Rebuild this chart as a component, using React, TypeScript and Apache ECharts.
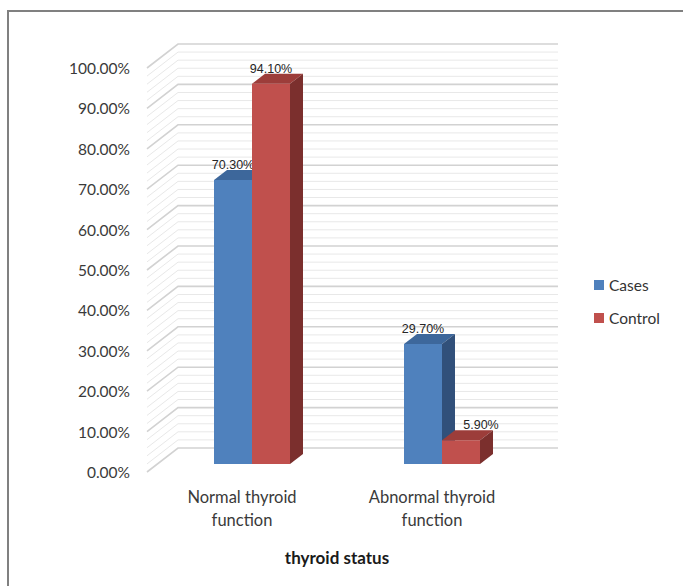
import React, { useEffect, useRef } from "react";
import * as echarts from "echarts";

// Chart data
const categories = ["Normal thyroid\nfunction", "Abnormal thyroid\nfunction"];
const seriesNames = ["Cases", "Control"];
const casesValues = [70.3, 29.7];
const controlValues = [94.1, 5.9];
const axisTitle = "thyroid status";

// Value axis range
const yMin = 0;
const yMax = 100;
const yMajorStep = 10;
const yMinorStep = 2;

// Colours per series: front face, top face, side face
const palettes = [
  { front: "#4F81BD", top: "#3D679B", side: "#31507A" },
  { front: "#C0504D", top: "#9C3D3A", side: "#7B2F2D" },
];

// Pseudo-3D geometry (pixels)
const WALL_DEPTH = { x: 31, y: -24 };
const BAR_PLANE = { x: 10, y: -8 };
const BAR_DEPTH = { x: 13, y: -10 };
const LABEL_NUDGE = 20; // sideways shift for a label that would sit on a taller neighbour

const GRID = { left: 147, top: 68, width: 380, height: 404 };

function wallValues(): number[] {
  const out: number[] = [];
  for (let v = yMin; v <= yMax + 1e-9; v += yMinorStep) out.push(Math.round(v * 100) / 100);
  return out;
}

function wallRenderer(params: any, api: any) {
  const v = api.value(1);
  const p = api.coord([0, v]);
  const cs = params.coordSys;
  const x = cs.x;
  const y = p[1];
  const major = Math.abs(v / yMajorStep - Math.round(v / yMajorStep)) < 1e-6;
  return {
    type: "polyline",
    silent: true,
    shape: {
      points: [
        [x, y],
        [x + WALL_DEPTH.x, y + WALL_DEPTH.y],
        [x + cs.width + WALL_DEPTH.x, y + WALL_DEPTH.y],
      ],
    },
    style: {
      fill: "none",
      stroke: major ? "#d2d2d2" : "#e8e8e8",
      lineWidth: major ? 1.6 : 1,
    },
  };
}

function barRenderer(seriesIndex: number) {
  const pal = palettes[seriesIndex];
  return (params: any, api: any) => {
    const cat = api.value(0);
    const val = api.value(1);
    const base = api.coord([cat, 0]);
    const top = api.coord([cat, val]);
    const band = api.size([1, 0])[0];
    const w = band / 5;
    const x0 = base[0] + (seriesIndex === 0 ? -w : 0) + BAR_PLANE.x;
    const x1 = x0 + w;
    const yb = base[1] + BAR_PLANE.y;
    const yt = top[1] + BAR_PLANE.y;
    const dx = BAR_DEPTH.x;
    const dy = BAR_DEPTH.y;
    // a right-hand label whose left neighbour is much taller is moved aside
    const crowded = seriesIndex === 1 && casesValues[cat] > val + 5;
    const labelX = x0 + w / 2 + (crowded ? LABEL_NUDGE : 0);
    return {
      type: "group",
      children: [
        {
          type: "rect",
          shape: { x: x0, y: yt, width: w, height: yb - yt },
          style: { fill: pal.front },
        },
        {
          type: "polygon",
          shape: {
            points: [
              [x0, yt],
              [x0 + dx, yt + dy],
              [x1 + dx, yt + dy],
              [x1, yt],
            ],
          },
          style: { fill: pal.top },
        },
        {
          type: "polygon",
          shape: {
            points: [
              [x1, yt],
              [x1 + dx, yt + dy],
              [x1 + dx, yb + dy],
              [x1, yb],
            ],
          },
          style: { fill: pal.side },
        },
        {
          type: "text",
          z2: 10,
          style: {
            x: labelX,
            y: yt - 15,
            text: val.toFixed(2) + "%",
            align: "center",
            verticalAlign: "middle",
            fill: "#262626",
            font: '12.5px "Liberation Sans", Arial, sans-serif',
          },
        },
      ],
    };
  };
}

export default function App() {
  const ref = useRef<HTMLDivElement>(null);

  useEffect(() => {
    if (!ref.current) return;
    const chart = echarts.init(ref.current, undefined, { renderer: "svg" });
    const labelFont = "Lato, 'Open Sans', sans-serif";

    chart.setOption({
      animation: false,
      backgroundColor: "#ffffff",
      grid: { ...GRID, containLabel: false },
      legend: {
        data: seriesNames,
        orient: "vertical",
        left: 594,
        top: 277,
        padding: 0,
        icon: "rect",
        itemWidth: 10,
        itemHeight: 10,
        itemGap: 17,
        selectedMode: false,
        textStyle: {
          fontFamily: labelFont,
          fontSize: 15.5,
          lineHeight: 16,
          color: "#333333",
        },
      },
      xAxis: {
        type: "category",
        data: categories,
        axisLine: { show: false },
        axisTick: { show: false },
        splitLine: { show: false },
        axisLabel: {
          margin: 13,
          fontFamily: labelFont,
          fontSize: 16.5,
          lineHeight: 23,
          color: "#3a3a3a",
          interval: 0,
        },
        name: axisTitle,
        nameLocation: "middle",
        nameGap: 77,
        nameTextStyle: {
          fontFamily: labelFont,
          fontSize: 17,
          fontWeight: "bold",
          color: "#1a1a1a",
        },
      },
      yAxis: {
        type: "value",
        min: yMin,
        max: yMax,
        interval: yMajorStep,
        axisLine: { show: false },
        axisTick: { show: false },
        splitLine: { show: false },
        axisLabel: {
          margin: 17,
          fontFamily: labelFont,
          fontSize: 15.5,
          color: "#3a3a3a",
          formatter: (v: number) => v.toFixed(2) + "%",
        },
      },
      graphic: [
        {
          type: "rect",
          silent: true,
          shape: { x: 8, y: 11, width: 720, height: 620 },
          style: { fill: "none", stroke: "#808080", lineWidth: 2 },
        },
      ],
      series: [
        {
          type: "custom",
          name: "walls",
          silent: true,
          z: 1,
          renderItem: wallRenderer,
          data: wallValues().map((v) => [0, v]),
        },
        {
          type: "custom",
          name: seriesNames[0],
          z: 2,
          itemStyle: { color: palettes[0].front },
          renderItem: barRenderer(0),
          data: casesValues.map((v, i) => [i, v]),
        },
        {
          type: "custom",
          name: seriesNames[1],
          z: 3,
          itemStyle: { color: palettes[1].front },
          renderItem: barRenderer(1),
          data: controlValues.map((v, i) => [i, v]),
        },
      ],
    });

    return () => chart.dispose();
  }, []);

  return (
    <div
      ref={ref}
      style={{ position: "fixed", left: 0, top: 0, width: 683, height: 586 }}
    />
  );
}
